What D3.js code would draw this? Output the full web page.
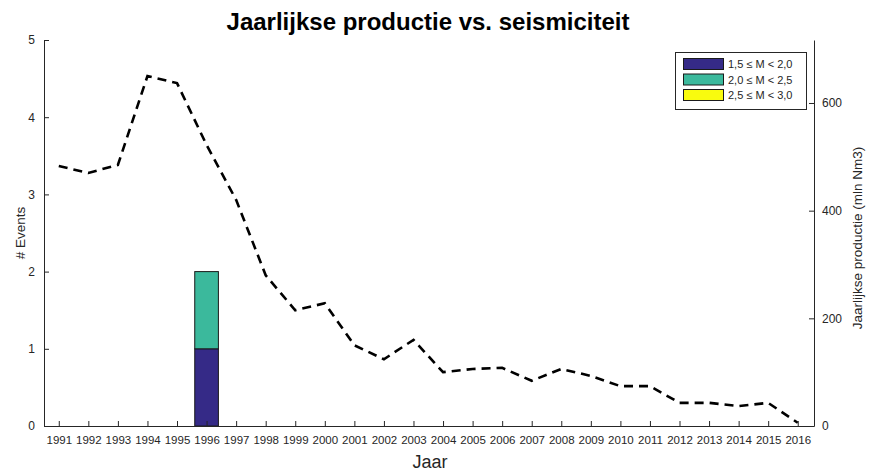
<!DOCTYPE html>
<html>
<head>
<meta charset="utf-8">
<script src="https://cdn.jsdelivr.net/npm/d3@7"></script>
<style>
  body { margin: 0; background: #fff; }
  svg { display: block; font-family: "Liberation Sans", Arial, sans-serif; }
</style>
</head>
<body>
<svg id="chart" width="869" height="471"></svg>
<script>
// ---- data ----
const years = d3.range(1991, 2017);
const production = [483, 470, 485, 650, 637, 522, 420, 280, 215, 228, 150, 124, 160, 100, 106, 108, 84, 106, 93, 74, 74, 43, 43, 37, 43, 6];
const eventYears = [1996];
const events_15_20 = [1];
const events_20_25 = [1];
const events_25_30 = [0];
const classLabels = ["1,5 \u2264 M < 2,0", "2,0 \u2264 M < 2,5", "2,5 \u2264 M < 3,0"];
const classColors = ["#352a87", "#3bb99c", "#f9fb0e"];
const leftTicks = [0, 1, 2, 3, 4, 5];
const rightTicks = [0, 200, 400, 600];

// ---- layout ----
const svg = d3.select("#chart");
const L = 44, R = 814, T = 40, B = 426;
const axisColor = "#262626";

const x = d3.scaleLinear().domain([1990.5, 2016.55]).range([L, R]);
const yL = d3.scaleLinear().domain([0, 5]).range([B, T]);
const yR = d3.scaleLinear().domain([0, 717]).range([B, T]);

// stacked bars
const stackData = eventYears.map((yr, i) => ({year: yr, a: events_15_20[i], b: events_20_25[i], c: events_25_30[i]}));
const stack = d3.stack().keys(["a", "b", "c"])(stackData);
const bw = (x(1992) - x(1991)) * 0.8;
stack.forEach((layer, k) => {
  svg.append("g").selectAll("rect").data(layer).join("rect")
    .attr("x", d => x(d.data.year) - bw / 2)
    .attr("y", d => yL(d[1]))
    .attr("width", bw)
    .attr("height", d => yL(d[0]) - yL(d[1]))
    .attr("fill", classColors[k])
    .attr("stroke", d => (d[1] - d[0]) > 0 ? "#1a1a1a" : "none")
    .attr("stroke-width", 1);
});

// production line
const line = d3.line().x((d, i) => x(years[i])).y(d => yR(d));
svg.append("path").datum(production)
  .attr("d", line)
  .attr("fill", "none")
  .attr("stroke", "#000")
  .attr("stroke-width", 2.6)
  .attr("stroke-dasharray", "9,6");

// axes
const gx = svg.append("g").attr("transform", `translate(0,${B})`)
  .call(d3.axisBottom(x).tickValues(years).tickFormat(d3.format("d")).tickSizeInner(-5).tickSizeOuter(0).tickPadding(10));
const gl = svg.append("g").attr("transform", `translate(${L},0)`)
  .call(d3.axisLeft(yL).tickValues(leftTicks).tickFormat(d3.format("d")).tickSizeInner(-5).tickSizeOuter(0).tickPadding(9));
const gr = svg.append("g").attr("transform", `translate(${R},0)`)
  .call(d3.axisRight(yR).tickValues(rightTicks).tickFormat(d3.format("d")).tickSizeInner(-5).tickSizeOuter(0).tickPadding(8));
[gx, gl, gr].forEach(g => {
  g.selectAll("path").attr("stroke", axisColor).attr("stroke-width", 1);
  g.selectAll("line").attr("stroke", axisColor).attr("stroke-width", 1);
  g.selectAll("text").attr("fill", axisColor).attr("font-size", 11.5)
    .attr("font-family", "'Liberation Sans', Arial, sans-serif");
});
gl.selectAll("text").attr("font-size", 12);
gr.selectAll("text").attr("font-size", 12);

// titles
svg.append("text").attr("x", 428).attr("y", 30).attr("text-anchor", "middle")
  .attr("font-size", 24).attr("font-weight", "bold").attr("fill", "#000")
  .text("Jaarlijkse productie vs. seismiciteit");
svg.append("text").attr("x", 430).attr("y", 468).attr("text-anchor", "middle")
  .attr("font-size", 18).attr("fill", axisColor).text("Jaar");
svg.append("text").attr("transform", "translate(25,233) rotate(-90)").attr("text-anchor", "middle")
  .attr("font-size", 13.5).attr("fill", axisColor).text("# Events");
svg.append("text").attr("transform", "translate(862,238) rotate(-90)").attr("text-anchor", "middle")
  .attr("font-size", 13.5).attr("fill", axisColor).text("Jaarlijkse productie (mln Nm3)");

// legend
const lg = svg.append("g");
lg.append("rect").attr("x", 675.5).attr("y", 52.5).attr("width", 131).attr("height", 57)
  .attr("fill", "#fff").attr("stroke", axisColor).attr("stroke-width", 1);
classLabels.forEach((lab, i) => {
  const yy = 58 + i * 15.5;
  lg.append("rect").attr("x", 683.5).attr("y", yy + 0.5).attr("width", 40).attr("height", 11)
    .attr("fill", classColors[i]).attr("stroke", "#1a1a1a").attr("stroke-width", 1);
  lg.append("text").attr("x", 728).attr("y", yy + 10).attr("font-size", 11)
    .attr("fill", axisColor).text(lab);
});
</script>
</body>
</html>
